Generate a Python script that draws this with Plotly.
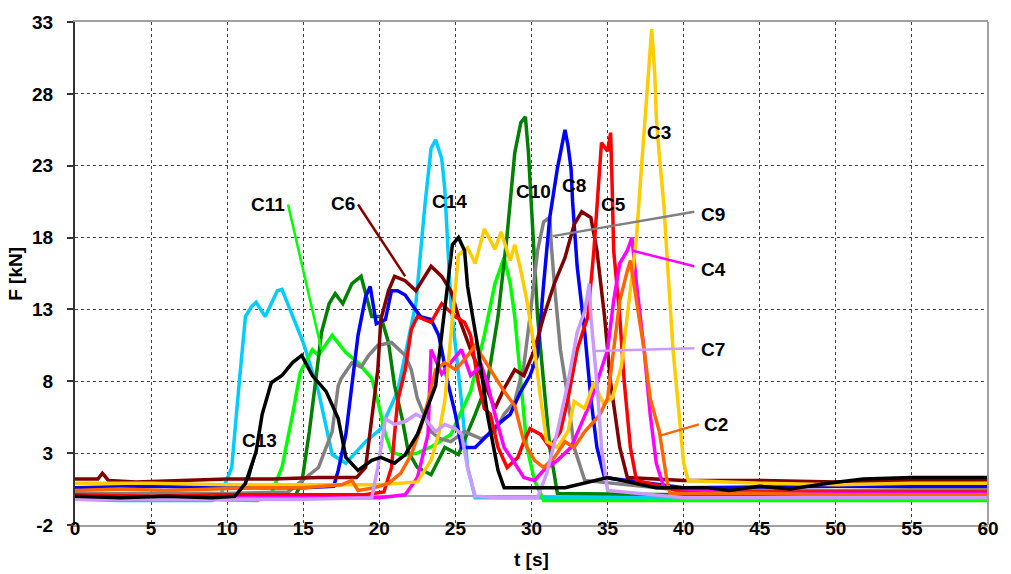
import plotly.graph_objects as go

# ---------------- data ----------------
c14_t = [0, 3, 6, 9, 9.5, 10.3, 10.8, 11.2, 11.6, 11.9, 12.5, 13.3, 13.6, 14.3, 15.0, 16.0, 16.9, 17.8, 19.1, 20.1, 21.2, 22.4, 23.0, 23.4, 23.7, 24.1, 24.3, 24.7, 25.4, 25.8, 26.3, 30, 40, 50, 60]
c14_F = [-0.2, -0.3, -0.3, -0.3, -0.1, 2.0, 8.0, 12.5, 13.2, 13.5, 12.5, 14.3, 14.4, 12.5, 10.7, 7.3, 2.9, 2.3, 3.8, 4.7, 7.3, 13.4, 20.3, 24.2, 24.8, 23.5, 21.4, 13.4, 6.6, 2.0, -0.1, -0.1, -0.1, -0.2, -0.2]

c13_t = [0, 3, 6, 9, 10.5, 11.2, 11.9, 12.3, 12.9, 13.6, 14.3, 14.9, 15.6, 16.5, 17.3, 17.8, 18.6, 19.5, 20.1, 21.0, 21.7, 22.5, 23.7, 24.3, 24.8, 25.2, 25.6, 25.8, 26.5, 27.1, 27.8, 28.2, 29.9, 32.2, 35.0, 38.2, 41.5, 43.0, 45, 47, 49.5, 51.8, 55, 60]
c13_F = [0.0, -0.1, 0.0, -0.1, 0.0, 0.9, 3.1, 5.7, 7.9, 8.4, 9.3, 9.8, 8.4, 7.3, 5.4, 2.7, 1.8, 2.5, 2.7, 2.3, 2.9, 4.3, 7.7, 12.9, 17.5, 18.0, 17.1, 14.6, 10.2, 5.7, 1.8, 0.6, 0.6, 0.6, 1.3, 0.6, 0.6, 0.4, 0.7, 0.5, 0.9, 1.2, 1.3, 1.3]

c11_t = [0, 4, 8, 12, 12.9, 13.6, 14.3, 14.8, 15.6, 16.0, 16.9, 17.8, 18.6, 19.5, 19.9, 20.4, 20.8, 21.5, 22.5, 23.5, 24.7, 26.0, 26.9, 27.6, 28.2, 28.6, 28.9, 29.3, 29.7, 30.2, 30.8, 40, 50, 60]
c11_F = [-0.1, -0.2, -0.2, -0.3, 0.2, 2.0, 5.7, 8.6, 10.2, 9.8, 11.2, 10.0, 9.3, 8.2, 6.6, 4.3, 3.1, 2.8, 3.0, 3.5, 4.3, 7.3, 11.2, 14.8, 16.6, 14.8, 12.5, 7.9, 3.4, 1.1, -0.3, -0.3, -0.3, -0.3]

c10_t = [0, 5, 10, 14.5, 14.9, 15.4, 15.8, 16.2, 16.7, 17.1, 17.6, 18.2, 18.8, 19.5, 20.1, 20.6, 21.0, 21.5, 21.9, 22.5, 23.4, 24.3, 25.2, 26.3, 27.1, 27.8, 28.4, 28.9, 29.3, 29.6, 29.8, 29.9, 30.4, 30.8, 31.2, 31.7, 40, 50, 60]
c10_F = [0.1, 0.1, 0.0, 0.1, 0.9, 4.5, 7.9, 11.4, 13.4, 14.1, 13.4, 14.8, 15.3, 12.5, 12.5, 10.7, 7.7, 5.4, 3.1, 2.0, 1.5, 3.4, 2.9, 5.7, 7.9, 12.5, 18.2, 23.9, 26.0, 26.4, 23.9, 22.1, 12.5, 7.9, 3.4, 0.2, 0.1, 0.0, 0.0]

c9_t = [0, 5, 10, 14.0, 14.7, 16.0, 16.9, 17.3, 17.5, 18.2, 18.8, 19.3, 19.9, 20.8, 21.7, 22.1, 22.5, 23.0, 23.4, 24.0, 24.7, 25.6, 26.7, 27.6, 28.2, 28.9, 29.5, 29.9, 30.4, 30.8, 31.2, 31.3, 31.5, 31.9, 32.4, 32.8, 33.5, 40, 50, 60]
c9_F = [0.2, 0.2, 0.2, 0.3, 0.9, 2.0, 4.5, 7.7, 8.2, 9.3, 9.0, 9.8, 10.5, 10.7, 9.8, 8.8, 6.8, 5.5, 4.5, 4.0, 3.8, 4.5, 4.0, 4.5, 5.7, 6.6, 9.1, 12.5, 17.1, 19.1, 19.4, 17.5, 14.8, 10.2, 6.8, 3.4, 1.1, 0.4, 0.4, 0.5]

c8_t = [0, 5, 10, 15, 17.0, 17.3, 17.8, 18.2, 18.6, 19.1, 19.4, 19.8, 20.4, 20.8, 21.2, 21.7, 22.1, 22.7, 23.4, 23.9, 24.1, 24.5, 25.0, 25.4, 26.3, 27.1, 27.8, 28.6, 29.3, 29.9, 30.4, 30.8, 31.2, 31.7, 32.2, 32.4, 32.6, 32.7, 33.0, 33.5, 33.9, 34.3, 34.8, 40, 50, 60]
c8_F = [0.6, 0.7, 0.6, 0.6, 0.7, 1.8, 4.3, 7.7, 11.2, 13.9, 14.6, 12.0, 12.3, 14.3, 14.3, 14.0, 13.4, 12.5, 12.3, 11.2, 10.2, 7.9, 5.7, 3.4, 3.4, 4.3, 5.0, 5.7, 7.3, 8.4, 9.8, 14.8, 19.4, 22.8, 25.5, 24.4, 22.8, 20.5, 16.0, 11.4, 6.8, 3.4, 1.3, 0.6, 0.7, 0.7]

c6_t = [0, 1.5, 1.8, 2.2, 4, 7, 10, 13, 16, 18.5, 19.1, 19.5, 19.9, 20.1, 20.6, 21.0, 21.7, 22.4, 23.0, 23.4, 24.1, 24.7, 25.2, 26.0, 26.9, 27.6, 28.2, 28.9, 29.5, 30.2, 30.8, 31.5, 32.2, 32.8, 33.3, 33.9, 34.3, 34.8, 35.2, 35.8, 36.3, 40, 45, 50, 55, 60]
c6_F = [1.2, 1.2, 1.6, 1.1, 1.0, 1.1, 1.2, 1.2, 1.3, 1.3, 2.0, 5.4, 8.8, 12.3, 14.3, 15.3, 15.0, 14.3, 15.3, 16.0, 15.3, 14.3, 12.5, 10.2, 7.9, 6.1, 7.5, 8.8, 8.4, 10.2, 12.5, 14.8, 16.6, 18.9, 19.8, 19.4, 17.1, 12.5, 7.9, 3.4, 1.3, 1.1, 1.1, 1.0, 1.1, 1.1]

c5_t = [0, 5, 10, 15, 19, 20.3, 20.8, 21.2, 21.7, 22.1, 22.5, 23.4, 24.1, 25.0, 25.6, 26.0, 26.5, 26.9, 27.3, 27.8, 28.4, 29.1, 29.5, 29.9, 30.6, 31.2, 31.9, 32.4, 33.0, 33.7, 34.1, 34.4, 34.6, 35.0, 35.2, 35.3, 35.4, 35.8, 36.1, 36.5, 36.9, 40, 50, 60]
c5_F = [0.1, 0.0, 0.1, 0.1, 0.1, 0.3, 2.0, 6.6, 8.8, 11.6, 12.5, 12.1, 13.4, 12.5, 12.1, 11.2, 7.9, 6.1, 5.7, 3.4, 2.0, 2.7, 3.8, 4.7, 4.3, 3.4, 4.5, 6.8, 10.2, 12.5, 17.1, 21.6, 24.6, 24.0, 25.3, 21.6, 17.1, 12.5, 7.9, 3.4, 1.1, 0.3, 0.3, 0.3]

c4_t = [0, 5, 10, 15, 20, 21.7, 22.5, 23.2, 23.4, 24.1, 24.6, 25.4, 26.0, 26.7, 27.1, 27.6, 28.2, 28.9, 29.5, 30.2, 30.8, 31.7, 32.6, 33.7, 34.3, 35.0, 35.4, 35.8, 36.3, 36.6, 36.9, 37.4, 37.8, 38.2, 38.7, 45, 60]
c4_F = [-0.1, -0.1, -0.1, -0.1, -0.1, 0.1, 1.3, 4.3, 10.2, 8.5, 9.2, 10.2, 8.4, 9.1, 7.9, 5.7, 3.4, 2.3, 1.3, 1.1, 1.8, 2.5, 3.4, 6.1, 7.9, 10.2, 13.6, 16.2, 17.1, 18.0, 14.8, 10.2, 5.7, 2.3, 0.6, 0.2, 0.2]

c3_t = [0, 5, 10, 15, 20, 22.5, 23.4, 23.9, 24.3, 24.7, 25.2, 25.8, 26.3, 26.9, 27.6, 28.0, 28.6, 28.9, 29.3, 29.7, 30.2, 30.6, 31.0, 31.7, 32.4, 32.8, 33.5, 34.1, 34.7, 35.3, 35.9, 36.4, 36.9, 37.2, 37.5, 37.8, 37.9, 38.1, 38.2, 38.4, 38.7, 38.9, 39.1, 39.3, 39.7, 40.0, 40.3, 45, 50, 55, 60]
c3_F = [0.9, 0.9, 0.8, 0.8, 0.8, 1.0, 2.5, 4.3, 6.6, 11.2, 16.8, 17.3, 16.2, 18.6, 17.2, 18.4, 16.4, 17.5, 15.7, 13.6, 10.2, 6.8, 3.8, 3.4, 4.5, 6.6, 6.1, 7.9, 6.5, 6.8, 9.0, 13.5, 18.0, 22.5, 27.1, 31.2, 32.5, 29.4, 26.4, 23.7, 20.3, 16.8, 13.9, 10.2, 5.7, 2.3, 1.1, 0.9, 0.8, 0.9, 0.9]

c2_t = [0, 3, 6, 9, 12, 15, 17.5, 18.2, 18.6, 19.7, 20.6, 21.4, 22.1, 22.7, 23.2, 23.7, 24.3, 25.0, 25.6, 26.3, 26.9, 27.6, 28.2, 28.9, 29.5, 30.2, 30.8, 31.5, 32.2, 32.8, 33.5, 34.1, 34.5, 35.0, 35.4, 35.8, 36.3, 36.5, 36.9, 37.4, 37.8, 38.4, 38.9, 39.1, 45, 50, 60]
c2_F = [0.4, 0.5, 0.4, 0.5, 0.6, 0.6, 0.8, 1.1, 0.4, 0.6, 0.9, 1.6, 2.9, 4.7, 6.6, 8.8, 9.3, 8.8, 9.5, 10.5, 9.5, 8.4, 7.3, 6.3, 3.8, 2.5, 2.0, 2.7, 3.8, 3.4, 4.5, 5.2, 5.7, 6.8, 10.2, 13.6, 15.7, 16.4, 13.6, 10.2, 6.8, 4.5, 1.1, 0.2, 0.2, 0.1, 0.1]

c7_t = [0, 5, 10, 15, 19.5, 19.9, 20.4, 21.0, 21.7, 22.4, 23.0, 23.7, 24.3, 25.0, 25.4, 25.8, 26.3, 28, 30.4, 31.0, 31.7, 32.4, 33.0, 33.5, 33.8, 33.9, 34.3, 34.6, 35.0, 40, 50, 60]
c7_F = [-0.2, -0.2, -0.2, -0.2, -0.1, 2.0, 5.4, 5.0, 5.2, 5.7, 5.4, 4.5, 5.0, 4.7, 4.3, 2.0, 0.0, -0.1, -0.1, 1.6, 4.5, 7.9, 11.4, 12.9, 14.8, 12.5, 7.9, 3.4, 0.4, -0.1, -0.1, -0.1]

series_names = ["C14", "C11", "C10", "C9", "C8", "C6", "C5", "C4", "C3", "C2", "C7", "C13"]
series_t = [c14_t, c11_t, c10_t, c9_t, c8_t, c6_t, c5_t, c4_t, c3_t, c2_t, c7_t, c13_t]
series_F = [c14_F, c11_F, c10_F, c9_F, c8_F, c6_F, c5_F, c4_F, c3_F, c2_F, c7_F, c13_F]
colors = {"C14": "#00CCFF", "C11": "#00FF00", "C10": "#008000", "C9": "#808080",
          "C8": "#0000FF", "C6": "#800000", "C5": "#FF0000", "C4": "#FF00FF",
          "C3": "#FFCC00", "C2": "#FF6600", "C7": "#CC99FF", "C13": "#000000"}

# label positions (t, F) and anchors
label_names = ["C11", "C6", "C14", "C10", "C8", "C5", "C3", "C9", "C4", "C7", "C2", "C13"]
label_t = [13.9, 18.5, 24.6, 30.1, 32.8, 35.4, 38.4, 41.0, 41.0, 41.0, 41.2, 12.1]
label_F = [20.3, 20.4, 20.5, 21.2, 21.6, 20.3, 25.3, 19.6, 15.8, 10.2, 5.0, 3.9]
label_anchor = ["right", "right", "center", "center", "center", "center", "center", "left", "left", "left", "left", "center"]

# leader lines: (name, t-pair, F-pair)
leader_names = ["C11", "C6", "C9", "C4", "C7", "C2", "C13"]
leader_t = [[14.0, 16.2], [18.6, 21.7], [40.7, 31.4], [40.7, 36.6], [40.7, 34.2], [41.0, 38.4], [11.9, 11.4]]
leader_F = [[20.3, 10.2], [20.3, 15.3], [19.8, 18.1], [16.0, 17.1], [10.3, 10.1], [5.0, 4.2], [3.15, 1.2]]

x_ticks = [0, 5, 10, 15, 20, 25, 30, 35, 40, 45, 50, 55, 60]
y_ticks = [-2, 3, 8, 13, 18, 23, 28, 33]

# ---------------- figure ----------------
fig = go.Figure()
for name, t, F in zip(series_names, series_t, series_F):
    fig.add_trace(go.Scatter(x=t, y=F, mode="lines", name=name,
                             line=dict(color=colors[name], width=3.5), showlegend=False))
for name, t, F in zip(leader_names, leader_t, leader_F):
    fig.add_trace(go.Scatter(x=t, y=F, mode="lines", line=dict(color=colors[name], width=2.5),
                             showlegend=False, hoverinfo="skip"))

font = dict(family="Liberation Sans, Arial, sans-serif", size=19, color="black", weight="bold")

for name, t, F, anc in zip(label_names, label_t, label_F, label_anchor):
    fig.add_annotation(x=t, y=F, xref="x", yref="y", text=name, showarrow=False,
                       xanchor=anc, yanchor="middle", font=font)

fig.add_annotation(x=-0.0654, y=0.5, xref="paper", yref="paper", text="F [kN]", textangle=-90,
                   showarrow=False, font=font, xanchor="center", yanchor="middle")
fig.add_annotation(x=0.5, y=-0.0685, xref="paper", yref="paper", text="t [s]",
                   showarrow=False, font=font, xanchor="center", yanchor="middle")

# right border
fig.add_shape(type="line", xref="paper", yref="paper", x0=1, x1=1, y0=0, y1=1,
              line=dict(color="#A0A0A0", width=2))

fig.update_layout(
    width=1011, height=574,
    margin=dict(l=75, r=18, t=14, b=49),
    paper_bgcolor="white", plot_bgcolor="white",
    font=font,
)
fig.update_xaxes(range=[0, 60], tickvals=x_ticks, ticktext=[str(v) for v in x_ticks],
                 showgrid=True, gridcolor="#444444", griddash="dot", gridwidth=1,
                 showline=True, linecolor="#A0A0A0", linewidth=2, mirror=True,
                 zeroline=False, ticks="", ticklabelstandoff=-15, tickfont=font)
fig.update_yaxes(range=[-2, 33], tickvals=y_ticks, ticktext=[str(v) for v in y_ticks],
                 showgrid=True, gridcolor="#444444", griddash="dot", gridwidth=1,
                 showline=True, linecolor="#333333", linewidth=2,
                 zeroline=True, zerolinecolor="#A0A0A0", zerolinewidth=2,
                 ticks="outside", ticklen=6, tickcolor="#333333", tickwidth=1.5,
                 ticklabelstandoff=10, tickfont=font)

fig.write_html("out.html")
